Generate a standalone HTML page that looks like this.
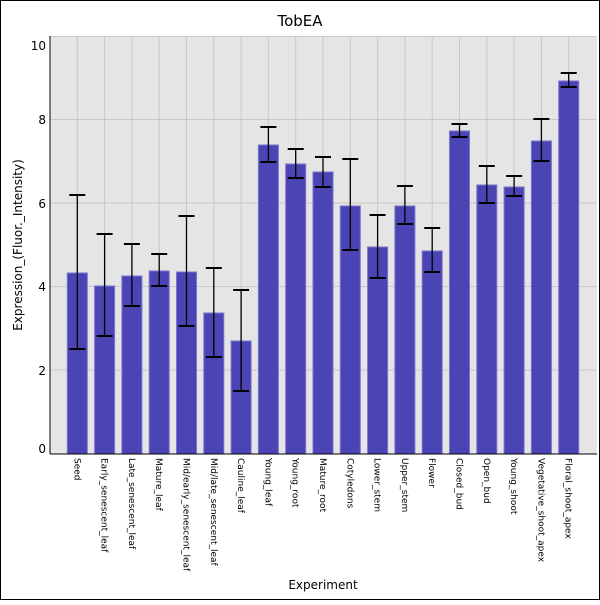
<!DOCTYPE html><html><head><style>body{margin:0;background:#fff}</style></head><body>
<svg width="600" height="600" xmlns="http://www.w3.org/2000/svg" font-family="DejaVu Sans, Liberation Sans, sans-serif">
<rect x="0.5" y="0.5" width="599" height="599" fill="#fff" stroke="#000"/>
<text x="300" y="26" font-size="15" text-anchor="middle">TobEA</text>
<rect x="50" y="36" width="547" height="418" fill="#e5e5e5"/>
<g stroke="#c8c8c8" stroke-width="1">
<line x1="50" x2="597" y1="36.5" y2="36.5"/><line x1="50" x2="597" y1="119.5" y2="119.5"/><line x1="50" x2="597" y1="203" y2="203"/><line x1="50" x2="597" y1="286.5" y2="286.5"/><line x1="50" x2="597" y1="370" y2="370"/>
</g>
<g id="v" stroke="#c8c8c8"></g>
<g id="bars"></g>
<line x1="50" x2="50" y1="36" y2="454" stroke="#000"/>
<line x1="50" x2="597" y1="454" y2="454" stroke="#000"/>
<g font-size="12" text-anchor="end"><text x="46" y="50">10</text><text x="46" y="124">8</text><text x="46" y="208">6</text><text x="46" y="291">4</text><text x="46" y="375">2</text><text x="46" y="453">0</text></g>
<text transform="translate(22,245) rotate(-90)" font-size="12" text-anchor="middle">Expression_(Fluor._Intensity)</text>
<text x="323" y="589" font-size="12" text-anchor="middle">Experiment</text>
<g id="labels" font-size="9"></g>
</svg>
<script>
var d=[["Seed",273,195,349],["Early_senescent_leaf",286,234,336],["Late_senescent_leaf",276,244,306],["Mature_leaf",271,254,286],["Mid/early_senescent_leaf",272,216,326],["Mid/late_senescent_leaf",313,268,357],["Cauline_leaf",341,290,391],["Young_leaf",145,127,162],["Young_root",164,149,178],["Mature_root",172,157,187],["Cotyledons",206,159,250],["Lower_stem",247,215,278],["Upper_stem",206,186,224],["Flower",251,228,272],["Closed_bud",131,124,137],["Open_bud",185,166,203],["Young_shoot",187,176,196],["Vegetative_shoot_apex",141,119,161],["Floral_shoot_apex",81,73,87]];
var ns="http://www.w3.org/2000/svg",b=document.getElementById("bars"),v=document.getElementById("v"),l=document.getElementById("labels");
function e(p,t,a){var n=document.createElementNS(ns,t);for(var k in a)n.setAttribute(k,a[k]);p.appendChild(n);return n}
d.forEach(function(r,i){var c=77.3+27.3*i;
e(v,"line",{x1:c,x2:c,y1:36,y2:454});
e(b,"rect",{x:c-10,y:r[1],width:20,height:454-r[1],fill:"#4b44b4",stroke:"#7a74cc","stroke-width":1});
e(b,"line",{x1:c,x2:c,y1:r[2],y2:r[3],stroke:"#000","stroke-width":1.3});
e(b,"line",{x1:c-8,x2:c+8,y1:r[2],y2:r[2],stroke:"#000","stroke-width":2});
e(b,"line",{x1:c-8,x2:c+8,y1:r[3],y2:r[3],stroke:"#000","stroke-width":2});
var t=e(l,"text",{transform:"translate("+(c-3)+",458) rotate(90)"});t.textContent=r[0];});
</script>
</body></html>
